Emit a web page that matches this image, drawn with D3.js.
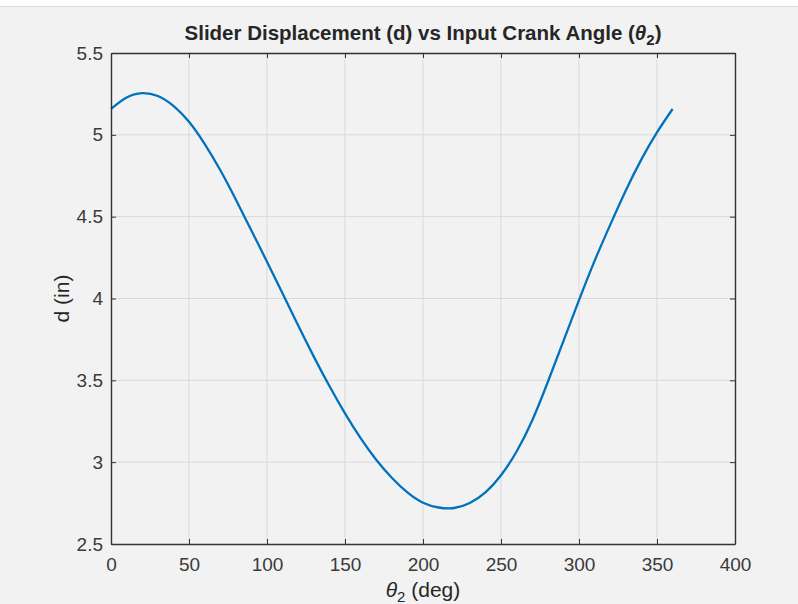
<!DOCTYPE html>
<html>
<head>
<meta charset="utf-8">
<script src="https://cdn.jsdelivr.net/npm/d3@7"></script>
<style>
  body { margin: 0; background: #f2f2f2; }
  svg { display: block; font-family: "Liberation Sans", Arial, sans-serif; }
</style>
</head>
<body>
<div id="chart"></div>
<script>
// Crank angle (deg) and slider displacement (in)
const theta = [0, 10, 20, 30, 40, 50, 60, 70, 80, 90, 100, 110, 120, 130, 140, 150, 160, 170, 180,
               190, 200, 210, 220, 230, 240, 250, 260, 270, 280, 290, 300, 310, 320, 330, 340, 350, 360];
const disp = [5.158, 5.228, 5.255, 5.237, 5.177, 5.08, 4.945, 4.785, 4.605, 4.415, 4.225, 4.03, 3.835, 3.645,
              3.465, 3.298, 3.147, 3.015, 2.905, 2.815, 2.752, 2.723, 2.72, 2.75, 2.815, 2.92, 3.065,
              3.255, 3.49, 3.74, 3.99, 4.23, 4.45, 4.66, 4.85, 5.015, 5.158];
const xTicks = [0, 50, 100, 150, 200, 250, 300, 350, 400];
const yTicks = [2.5, 3, 3.5, 4, 4.5, 5, 5.5];

const width = 798, height = 604;
const margin = { top: 53, right: 63, bottom: 60, left: 111 };

const svg = d3.select("#chart").append("svg")
    .attr("width", width)
    .attr("height", height);

// Figure background with the thin white strip at the top
svg.append("rect").attr("width", width).attr("height", height).attr("fill", "#f2f2f2");
svg.append("rect").attr("width", width).attr("height", 6).attr("fill", "#ffffff");
svg.append("line").attr("x1", 0).attr("x2", width).attr("y1", 6.5).attr("y2", 6.5)
    .attr("stroke", "#dcdcdc");

const x = d3.scaleLinear().domain([0, 400]).range([margin.left, width - margin.right]);
const y = d3.scaleLinear().domain([2.5, 5.5]).range([height - margin.bottom, margin.top]);

// Grid
const grid = svg.append("g").attr("stroke", "#d9d9d9").attr("stroke-width", 1);
grid.selectAll(".vgrid")
    .data(xTicks.slice(1, -1))
    .enter().append("line")
    .attr("x1", d => x(d)).attr("x2", d => x(d))
    .attr("y1", y(2.5)).attr("y2", y(5.5));
grid.selectAll(".hgrid")
    .data(yTicks.slice(1, -1))
    .enter().append("line")
    .attr("y1", d => y(d)).attr("y2", d => y(d))
    .attr("x1", x(0)).attr("x2", x(400));

// Data line
const line = d3.line()
    .x((d, i) => x(theta[i]))
    .y(d => y(d))
    .curve(d3.curveNatural);

svg.append("path")
    .datum(disp)
    .attr("fill", "none")
    .attr("stroke", "#0072bd")
    .attr("stroke-width", 2.3)
    .attr("d", line);

// Axes (ticks pointing inward, box on)
const axisColor = "#333333";
const tickFont = 19;

const axBottom = svg.append("g")
    .attr("transform", `translate(0,${y(2.5)})`)
    .call(d3.axisBottom(x).tickValues(xTicks).tickSizeInner(-5).tickSizeOuter(0).tickPadding(14));
const axLeft = svg.append("g")
    .attr("transform", `translate(${x(0)},0)`)
    .call(d3.axisLeft(y).tickValues(yTicks).tickFormat(d3.format("")).tickSizeInner(-5).tickSizeOuter(0).tickPadding(8));
const axTop = svg.append("g")
    .attr("transform", `translate(0,${y(5.5)})`)
    .call(d3.axisTop(x).tickValues(xTicks).tickSizeInner(-5).tickSizeOuter(0).tickFormat(""));
const axRight = svg.append("g")
    .attr("transform", `translate(${x(400)},0)`)
    .call(d3.axisRight(y).tickValues(yTicks).tickSizeInner(-5).tickSizeOuter(0).tickFormat(""));

[axBottom, axLeft, axTop, axRight].forEach(g => {
    g.select(".domain").attr("stroke", axisColor).attr("stroke-width", 1.4);
    g.selectAll(".tick line").attr("stroke", axisColor);
    g.selectAll(".tick text")
        .attr("fill", "#3a3a3a")
        .style("font-size", tickFont + "px")
        .style("font-family", "'Liberation Sans', Arial, sans-serif");
});

// Title
const title = svg.append("text")
    .attr("x", (x(0) + x(400)) / 2)
    .attr("y", 40)
    .attr("text-anchor", "middle")
    .attr("fill", "#262626")
    .style("font-size", "20.5px")
    .style("font-weight", "bold");
title.append("tspan").text("Slider Displacement (d) vs Input Crank Angle (");
title.append("tspan").text("θ").style("font-style", "italic");
title.append("tspan").text("2").attr("dy", 5).style("font-size", "15px");
title.append("tspan").text(")").attr("dy", -5);

// X label
const xLabel = svg.append("text")
    .attr("x", (x(0) + x(400)) / 2)
    .attr("y", 597)
    .attr("text-anchor", "middle")
    .attr("fill", "#262626")
    .style("font-size", "21px");
xLabel.append("tspan").text("θ").style("font-style", "italic");
xLabel.append("tspan").text("2").attr("dy", 5).style("font-size", "15px");
xLabel.append("tspan").text(" (deg)").attr("dy", -5);

// Y label
svg.append("text")
    .attr("transform", `translate(69,${(y(2.5) + y(5.5)) / 2}) rotate(-90)`)
    .attr("text-anchor", "middle")
    .attr("fill", "#262626")
    .style("font-size", "21px")
    .text("d (in)");
</script>
</body>
</html>
